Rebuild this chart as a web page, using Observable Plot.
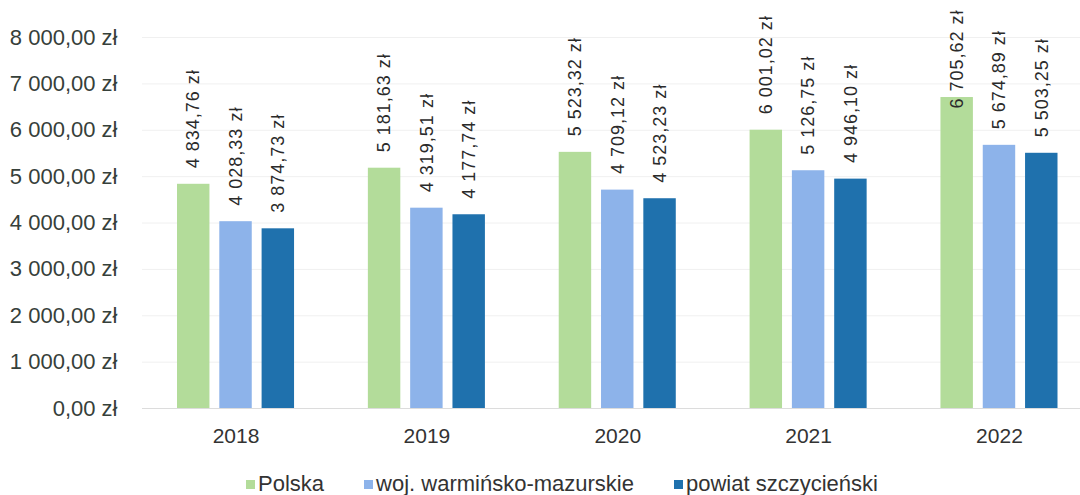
<!DOCTYPE html>
<html>
<head>
<meta charset="utf-8">
<script src="https://cdn.jsdelivr.net/npm/d3@7"></script>
<script src="https://cdn.jsdelivr.net/npm/@observablehq/plot@0.6"></script>
<style>
  html, body { margin: 0; padding: 0; background: #ffffff; }
  body { width: 1080px; height: 495px; overflow: hidden; font-family: "Liberation Sans", Arial, sans-serif; }
  #chart svg { display: block; }
  g[aria-label="text"] text { letter-spacing: 1px; }
  #legend { position: relative; height: 40px; display: flex; align-items: center; padding-left: 246px; gap: 40px; font-size: 22px; color: #333333; margin-top: 9px; }
  .item { display: flex; align-items: center; }
  .sw { width: 9px; height: 9px; margin-right: 3px; }
</style>
</head>
<body>
<div id="chart"></div>
<div id="legend"></div>
<script>
// ---- data ----
const years = ["2018", "2019", "2020", "2021", "2022"];
const seriesNames = ["Polska", "woj. warmińsko-mazurskie", "powiat szczycieński"];
const polska = [4834.76, 5181.63, 5523.32, 6001.02, 6705.62];
const wojewodztwo = [4028.33, 4319.51, 4709.12, 5126.75, 5674.89];
const powiat = [3874.73, 4177.74, 4523.23, 4946.10, 5503.25];
const yTicks = [0, 1000, 2000, 3000, 4000, 5000, 6000, 7000, 8000];

// ---- styles ----
const colors = ["#b3dc9a", "#8db3ea", "#1f71ad"];
const offsets = [-42.3, 0, 42.3];

const seriesValues = [polska, wojewodztwo, powiat];
const rows = [];
seriesNames.forEach((s, si) => years.forEach((y, yi) => rows.push({series: s, si, year: y, value: seriesValues[si][yi]})));

function fmt(v) {
  const [i, f] = v.toFixed(2).split(".");
  return i.replace(/\B(?=(\d{3})+(?!\d))/g, " ") + "," + f + " zł";
}

const textColor = "#333333";
const marks = [
  Plot.ruleY(yTicks.slice(1), {stroke: "#f0f0f0", strokeWidth: 1}),
  Plot.ruleY([0], {stroke: "#dcdcdc", strokeWidth: 1})
];
seriesNames.forEach((s, si) => {
  marks.push(Plot.barY(rows.filter(r => r.si === si), {x: "year", y: "value", fill: colors[si], dx: offsets[si]}));
});
seriesNames.forEach((s, si) => {
  marks.push(Plot.text(rows.filter(r => r.si === si), {
    x: "year",
    y: d => Math.min(d.value, 6124),
    text: d => fmt(d.value),
    rotate: -90,
    textAnchor: "start",
    dx: offsets[si],
    dy: -16,
    fontSize: 18,
    fill: "#2a2a2a"
  }));
});
marks.push(Plot.axisX({tickSize: 0, tickPadding: 20, fontSize: 21, fill: textColor}));
marks.push(Plot.axisY({ticks: yTicks, tickSize: 0, tickPadding: 25, tickFormat: fmt, fontSize: 22, fill: "#36403a"}));

const chart = Plot.plot({
  width: 1080,
  height: 455,
  marginTop: 37,
  marginBottom: 47,
  marginLeft: 142,
  marginRight: 0,
  style: {fontFamily: "'Liberation Sans', Arial, sans-serif", background: "#ffffff", color: textColor},
  x: {type: "band", domain: years, range: [142, 1092.5], paddingInner: 0.83, paddingOuter: 0.405, round: false, label: null},
  y: {domain: [0, 8000], label: null},
  marks
});
document.getElementById("chart").appendChild(chart);

const legend = document.getElementById("legend");
seriesNames.forEach((s, si) => {
  const it = document.createElement("div");
  it.className = "item";
  const sw = document.createElement("span");
  sw.className = "sw";
  sw.style.background = colors[si];
  const t = document.createElement("span");
  t.textContent = s;
  it.appendChild(sw);
  it.appendChild(t);
  legend.appendChild(it);
});
</script>
</body>
</html>
